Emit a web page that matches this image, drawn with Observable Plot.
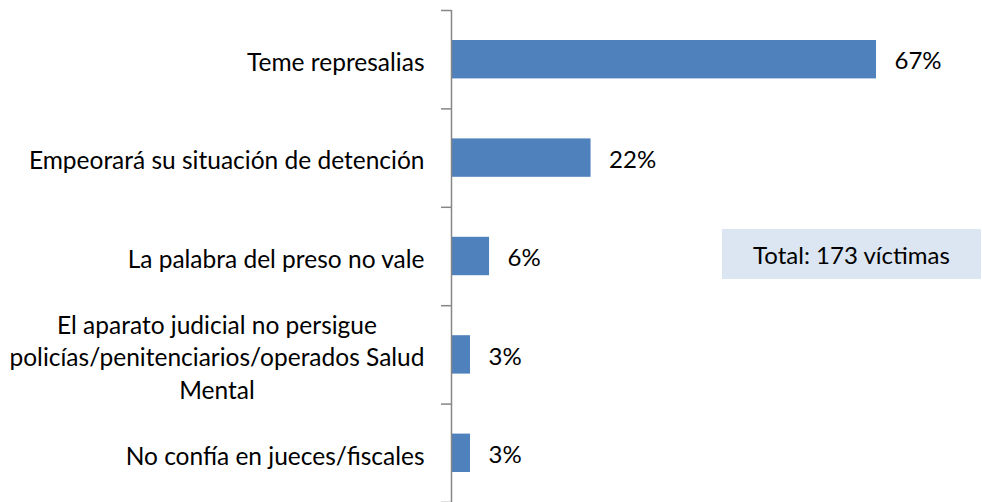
<!DOCTYPE html>
<html>
<head>
<meta charset="utf-8">
<script src="https://cdn.jsdelivr.net/npm/d3@7"></script>
<script src="https://cdn.jsdelivr.net/npm/@observablehq/plot@0.6"></script>
<style>
  html, body { margin: 0; padding: 0; background: #fff; }
  #wrap { position: relative; width: 982px; height: 502px; font-family: Lato, "Open Sans", sans-serif; }
  #note { position: absolute; left: 722px; top: 229px; width: 259px; height: 50px; background: #dce6f2;
          display: flex; align-items: center; justify-content: center; font-size: 24px; color: #000; }
</style>
</head>
<body>
<div id="wrap"></div>
<script>
const categories = [
  "Teme represalias",
  "Empeorará su situación de detención",
  "La palabra del preso no vale",
  "El aparato judicial no persigue\npolicías/penitenciarios/operados Salud\nMental",
  "No confía en jueces/fiscales"
];
const values = [67, 22, 6, 3, 3];
const noteText = "Total: 173 víctimas";

const data = categories.map((c, i) => ({cat: c, value: values[i], i}));

const chart = Plot.plot({
  width: 982,
  height: 502,
  marginLeft: 451,
  marginRight: 106,
  marginTop: 10,
  marginBottom: 0,
  style: {fontFamily: "Lato, 'Open Sans', sans-serif", fontSize: "24px", color: "#000", background: "#fff"},
  x: {domain: [0, d3.max(values)], axis: null},
  y: {domain: [0, categories.length], reverse: true, axis: null},
  marks: [
    Plot.rectX(data, {x1: 0, x2: "value", y1: "i", y2: d => d.i + 1, insetTop: 30, insetBottom: 30, fill: "#4f81bd"}),
    Plot.axisY(d3.range(categories.length + 1), {tickSize: 10, tickFormat: () => "", label: null, stroke: "#868686", strokeWidth: 1.5}),
    Plot.ruleX([0], {stroke: "#868686", strokeWidth: 1.5}),
    Plot.text(data, {x: "value", y: d => d.i + 0.5, text: d => d.value + "%", textAnchor: "start", dx: 18, dy: 2, fill: "#000", fontSize: 24}),
    Plot.text(data, {x: 0, y: d => d.i + 0.5, text: "cat", textAnchor: "end", dx: -27, dy: 1, fill: "#000", fontSize: 24.5, lineHeight: 1.32, className: "catlabels"})
  ]
});

const wrap = document.getElementById("wrap");
wrap.appendChild(chart);
const note = document.createElement("div");
note.id = "note";
note.textContent = noteText;
wrap.appendChild(note);

// center the lines of multi-line category labels relative to each other
chart.querySelectorAll(".catlabels text").forEach(t => {
  const spans = t.querySelectorAll("tspan");
  if (spans.length > 1) {
    const w = t.getBBox().width;
    t.setAttribute("text-anchor", "middle");
    spans.forEach(s => s.setAttribute("x", -w / 2));
  }
});
</script>
</body>
</html>
